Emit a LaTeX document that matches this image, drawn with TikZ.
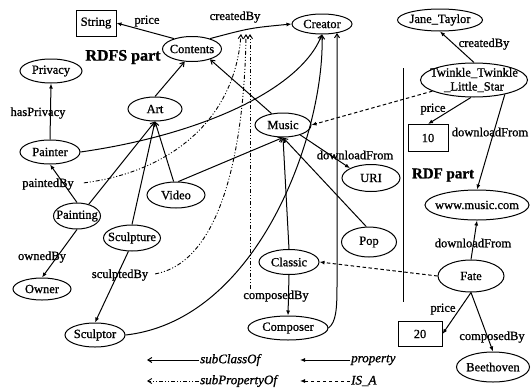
\documentclass[tikz,border=0pt]{standalone}
\usepackage{fontspec}
\setmainfont{Liberation Serif}[FakeBold=1]
\usetikzlibrary{shapes.geometric,arrows.meta}
\tikzset{
  every node/.style={font=\fontsize{12.5}{14}\selectfont},
  ell/.style n args={2}{ellipse,draw,line width=1pt,inner sep=0pt,minimum width=#1,minimum height=#2},
  box/.style n args={2}{rectangle,draw,line width=1pt,inner sep=0pt,minimum width=#1,minimum height=#2},
  lbl/.style={inner sep=1pt},
  prop/.style={line width=1pt,-{Latex[length=5pt,width=4pt]}},
  sub/.style={line width=1pt,-{Straight Barb[length=4pt,width=5pt]}},
  subp/.style={line width=0.9pt,-{Straight Barb[length=4pt,width=5pt]},dash pattern=on 4pt off 2pt on 1pt off 2pt on 1pt off 2pt},
  isa/.style={line width=1pt,-{Latex[length=5pt,width=4pt]},dash pattern=on 3.5pt off 2.5pt},
  big/.style={inner sep=1pt,font=\fontsize{16}{18}\selectfont\bfseries},
  leg/.style={inner sep=1pt,anchor=west,font=\fontsize{13}{15}\selectfont\itshape}
}
\begin{document}
\begin{tikzpicture}[x=1pt,y=-1pt]
\useasboundingbox (0,0) rectangle (532,388);

% RDFS nodes
\node[box={40}{26}] (String) at (96,23) {String};
\node[ell={59}{25},label=center:Contents] (Contents) at (192,49) {};
\node[ell={60}{20},label=center:Creator] (Creator) at (322,24) {};
\node[ell={62}{24},label=center:Privacy] (Privacy) at (51,71) {};
\node[ell={54}{24},label=center:Art] (Art) at (155,109) {};
\node[ell={60}{24},label=center:Painter] (Painter) at (50,152) {};
\node[ell={56}{24},label=center:Music] (Music) at (283,125) {};
\node[ell={58}{27},label=center:URI] (URI) at (371,178) {};
\node[ell={58}{26},label=center:Video] (Video) at (176,195) {};
\node[ell={47}{26},label=center:Painting] (Painting) at (77,216) {};
\node[ell={57}{26},label=center:Sculpture] (Sculpture) at (132,238) {};
\node[ell={58}{22},label=center:Owner] (Owner) at (42,289) {};
\node[ell={60}{24},label=center:Sculptor] (Sculptor) at (95,335) {};
\node[ell={60}{25},label=center:Classic] (Classic) at (289,262) {};
\node[ell={80}{24},label=center:Composer] (Composer) at (288,328) {};
\node[ell={55}{30},label=center:Pop] (Pop) at (369,242) {};

% RDF nodes
\node[ell={85}{22},label=center:Jane\_Taylor] (Jane) at (440,20) {};
\node[ell={107}{34},label={[align=center]center:Twinkle\_Twinkle\\\_Little\_Star}] (Twinkle) at (474,80) {};
\node[box={40}{27}] (ten) at (428,138) {10};
\node[ell={104}{30},label=center:www.music.com] (www) at (477,205) {};
\node[ell={66}{32},label=center:Fate] (Fate) at (471,276) {};
\node[box={44}{25}] (twenty) at (420,334) {20};
\node[ell={73}{30},label=center:Beethoven] (Beethoven) at (493,367) {};

% labels
\node[lbl] (lprice1) at (147,21) {price};
\node[lbl] (lcb1) at (235,17) {createdBy};
\node[lbl] (lhp) at (38,113) {hasPrivacy};
\node[lbl] (lpb) at (48,184) {paintedBy};
\node[lbl] (lob) at (42,257) {ownedBy};
\node[lbl] (lsb) at (120,275) {sculptedBy};
\node[lbl] (ldf1) at (355,155) {downloadFrom};
\node[lbl] (lcomp1) at (276,296) {composedBy};
\node[lbl] (lcb2) at (484,44) {createdBy};
\node[lbl] (lprice2) at (433,109) {price};
\node[lbl] (ldf2) at (490,132) {downloadFrom};
\node[lbl] (ldf3) at (473,243) {downloadFrom};
\node[lbl] (lprice3) at (443,309) {price};
\node[lbl] (lcomp2) at (492,337) {composedBy};
\node[big] (rdfs) at (123,57) {RDFS part};
\node[big,font=\fontsize{15}{17}\selectfont\bfseries] (rdf) at (443,175) {RDF part};

% separator
\coordinate (sepTop) at (403,68);
\coordinate (sepBot) at (403,302);
\draw[line width=1pt] (sepTop) -- (sepBot);

% properties (RDFS)
\draw[prop] (Contents.150) -- (String.east);
\draw[prop] (Contents.30) .. controls (250,28) .. (Creator.west);
\draw[prop] (Painter.north) -- (Privacy.south);
\draw[prop] (Painting.north) -- (Painter.south);
\draw[prop] (Painting.south) -- (Owner.north);
\draw[prop] (Sculpture.-105) -- (Sculptor.north);
\draw[prop] (Music.-30) -- (URI.155);
\draw[prop] (Classic.south) -- (Composer.north);

% subClassOf
\draw[sub] (Art.north) -- (Contents.240);
\draw[sub] (Music.135) -- (Contents.-30);
\draw[sub] (Painting.45) -- (Art.south);
\draw[sub] (Sculpture.north) -- (Art.south);
\draw[sub] (Video.100) -- (Art.south);
\draw[sub] (Video.80) -- (Music.south);
\draw[sub] (Classic.north) -- (Music.south);
\draw[sub] (Pop.100) -- (Music.south);
\draw[sub] (Painter.east) .. controls (200,135) and (300,90) .. (Creator.south);
\draw[sub] (Sculptor.east) .. controls (260,320) and (325,130) .. (Creator.south);
\coordinate (crt) at (337,33);
\coordinate (crv) at (337,285);
\draw[sub] (Composer.east) .. controls (336,322) and (337,310) .. (crv) -- (crt);

% subPropertyOf
\coordinate (cb1) at (241,34);
\coordinate (cb2) at (246,34);
\coordinate (cb3) at (250,34);
\draw[subp,shorten <=9pt] (lpb.east) .. controls (170,172) and (235,120) .. (cb1);
\draw[subp,shorten <=6pt] (lsb.east) .. controls (230,260) and (245,120) .. (cb2);
\draw[subp] (lcomp1.north -| cb3) -- (cb3);

% RDF part edges
\draw[prop] (Twinkle.north) -- (Jane.south);
\draw[prop] (Twinkle.-100) -- (ten.north);
\draw[prop] (Twinkle.-25) -- (www.north);
\draw[isa] (Twinkle.195) -- (Music.east);
\draw[prop] (Fate.north) -- (www.south);
\draw[isa] (Fate.west) -- (Classic.east);
\draw[prop] (Fate.south) -- (twenty.east);
\draw[prop] (Fate.south) -- (Beethoven.north);

% legend
\node[leg] (lg1) at (199,360) {subClassOf};
\node[leg] (lg2) at (350,360) {property};
\node[leg] (lg3) at (199,381) {subPropertyOf};
\node[leg] (lg4) at (350,381) {IS\_A};
\coordinate (lg1e) at (147,360);
\coordinate (lg2e) at (300,360);
\coordinate (lg3e) at (147,381);
\coordinate (lg4e) at (300,381);
\draw[sub] (lg1.west) -- (lg1e);
\draw[prop] (lg2.west) -- (lg2e);
\draw[subp] (lg3.west) -- (lg3e);
\draw[isa] (lg4.west) -- (lg4e);
\end{tikzpicture}
\end{document}
